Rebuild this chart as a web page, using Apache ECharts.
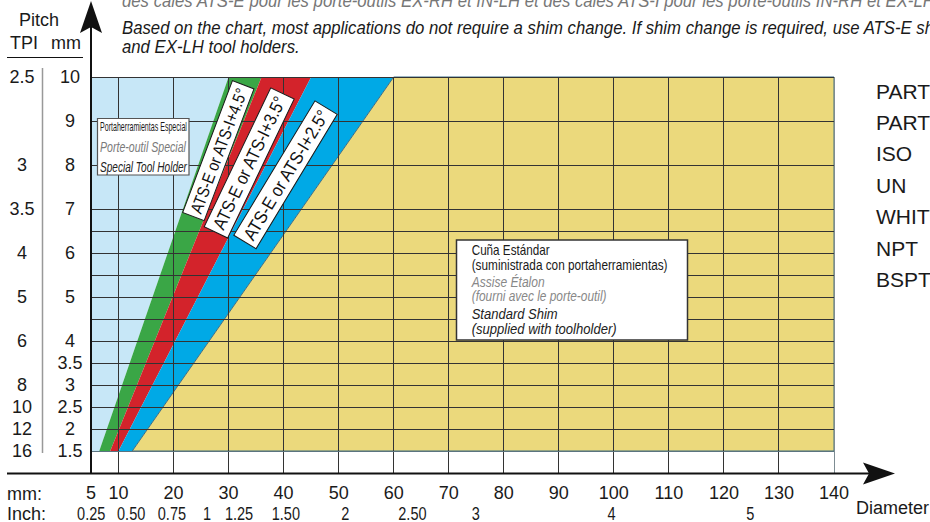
<!DOCTYPE html>
<html><head><meta charset="utf-8">
<script src="https://cdn.jsdelivr.net/npm/echarts@6/dist/echarts.min.js"></script>
<style>html,body{margin:0;padding:0;background:#fff}#c{width:930px;height:522px}</style>
</head><body><div id="c"></div>
<script>
// ---- data ----
// x axis: diameter (mm) and inch reference labels
const mmTicks = [5, 10, 20, 30, 40, 50, 60, 70, 80, 90, 100, 110, 120, 130, 140];
const inchLabels = ['0.25', '0.50', '0.75', '1', '1.25', '1.50', '2', '2.50', '3', '4', '5'];
const inchLabelAt = [5.05, 12.3, 19.7, 26.1, 31.9, 40.4, 51.2, 63.4, 74.9, 99.6, 124.8];
// y axis: pitch rows (row index on the pitch scale)
const pitchMm = ['1.5', '2', '2.5', '3', '3.5', '4', '5', '6', '7', '8', '9', '10'];
const pitchMmRow = [0, 1, 2, 3, 4, 5, 7, 9, 11, 13, 15, 17];
const pitchTpi = ['16', '12', '10', '8', '6', '5', '4', '3.5', '3', '2.5'];
const pitchTpiRow = [0, 1, 2, 3, 5, 7, 9, 11, 13, 17];
const gridRows = [0, 1, 2, 3, 4, 5, 6, 7, 8, 9, 10, 11, 13, 15, 17];
// zone boundaries: diameter (mm) at the 1.5 mm row (bottom) and at the 10 mm row (top)
const boundaryBottom = [6.5, 8.5, 10, 12.5];
const boundaryTop = [30, 36, 45, 60];
const zoneNames = ['Special Tool Holder', 'ATS-E or ATS-I+4.5°', 'ATS-E or ATS-I+3.5°', 'ATS-E or ATS-I+2.5°', 'Standard Shim'];
const threadTypes = ['PARTIAL 60°', 'PARTIAL 55°', 'ISO', 'UN', 'WHITWORTH', 'NPT', 'BSPT'];

// ---- chart ----
const X_MIN = 5, X_MAX = 140, ROW_MIN = -1, ROW_TOP = 17;
const FONT = '"Liberation Sans", Arial, Helvetica, sans-serif';
const zoneColors = ['#c7e7f7', '#3aa646', '#d3232b', '#00a9e6', '#ebd97c'];
const edges = [[X_MIN, X_MIN]].concat(boundaryBottom.map((b, i) => [b, boundaryTop[i]])).concat([[X_MAX, X_MAX]]);

const mctx = document.createElement('canvas').getContext('2d');
function measure(str, size, italic) {
  mctx.font = (italic ? 'italic ' : '') + size + 'px ' + FONT;
  return mctx.measureText(str).width;
}
function txt(str, x, y, size, o) {
  o = o || {};
  const sx = o.width ? o.width / measure(o.fitStr || str, size, o.italic) : (o.sx || 1);
  return { type: 'text', x: x, y: y, scaleX: sx, z: 200, silent: true,
    style: { text: str, fontSize: size, fontFamily: FONT, fontStyle: o.italic ? 'italic' : 'normal',
      fill: o.color || '#1a1a1a', align: o.align || 'left', verticalAlign: 'middle' } };
}
function bandTag(str, cx, cy, deg, len, wid, size) {
  const sx = Math.min(1.05, (len - 8) / measure(str, size, false));
  return { type: 'group', x: cx, y: cy, rotation: deg * Math.PI / 180, z: 150, children: [
    { type: 'rect', z: 150, shape: { x: -len / 2, y: -wid / 2, width: len, height: wid },
      style: { fill: '#fff', stroke: '#1a1a1a', lineWidth: 1 } },
    { type: 'text', z: 151, x: 0, y: 0.5, scaleX: sx,
      style: { text: str, fontSize: size, fontFamily: FONT, fill: '#111', align: 'center', verticalAlign: 'middle' } }
  ] };
}
function box(x, y, w, h, stroke, lw) {
  return { type: 'rect', z: 180, shape: { x: x, y: y, width: w, height: h }, style: { fill: '#fff', stroke: stroke, lineWidth: lw } };
}

const chart = echarts.init(document.getElementById('c'), null, { renderer: 'svg', width: 930, height: 522 });

const elements = [];
// axes lines with arrows
elements.push({ type: 'line', z: 120, shape: { x1: 7, y1: 473.5, x2: 872, y2: 473.5 }, style: { stroke: '#111', lineWidth: 2 } });
elements.push({ type: 'polygon', z: 120, shape: { points: [[895, 473.5], [863, 462.5], [869, 473.5], [863, 484.5]] }, style: { fill: '#111' } });
elements.push({ type: 'line', z: 120, shape: { x1: 91, y1: 474, x2: 91, y2: 22 }, style: { stroke: '#111', lineWidth: 2 } });
elements.push({ type: 'polygon', z: 120, shape: { points: [[91, 1], [80, 33], [91, 27], [102, 33]] }, style: { fill: '#111' } });
// pitch header
elements.push(txt('Pitch', 39, 20.4, 18, { align: 'center' }));
elements.push(txt('TPI', 24, 42.7, 18, { align: 'center' }));
elements.push(txt('mm', 66, 42.7, 18, { align: 'center' }));
elements.push({ type: 'line', z: 120, shape: { x1: 7, y1: 57.5, x2: 83, y2: 57.5 }, style: { stroke: '#111', lineWidth: 1 } });
elements.push({ type: 'line', z: 120, shape: { x1: 42.5, y1: 68, x2: 42.5, y2: 453 }, style: { stroke: '#999', lineWidth: 1.5 } });
// x axis captions
elements.push(txt('mm:', 7, 494.4, 18));
elements.push(txt('Inch:', 7, 513.5, 18));
elements.push(txt('Diameter', 856, 507.7, 18));
// notes at top
const noteScale = 813 / measure('Based on the chart, most applications do not require a shim change. If shim change is required, use ATS-E sh', 18, true);
elements.push(txt('des cales ATS-E pour les porte-outils EX-RH et IN-LH et des cales ATS-I pour les porte-outils IN-RH et EX-LH.', 122, 1, 18, { italic: true, color: '#777', sx: noteScale }));
elements.push(txt('Based on the chart, most applications do not require a shim change. If shim change is required, use ATS-E shims for EX-RH and IN-LH tool holders and ATS-I shims for IN-RH', 122, 27.7, 18, { italic: true, color: '#1a1a1a', sx: noteScale }));
elements.push(txt('and EX-LH tool holders.', 122, 46.7, 18, { italic: true, color: '#1a1a1a', sx: noteScale }));
// thread types on the right
threadTypes.forEach((t, i) => elements.push(txt(t, 876, 91 + i * 31.4, 21, { color: '#1a1a1a' })));
// zone tags
elements.push(bandTag(zoneNames[1], 218.3, 150.7, 69.3, 141, 23, 17));
elements.push(bandTag(zoneNames[2], 249.2, 162.9, 64.4, 154, 26, 18));
elements.push(bandTag(zoneNames[3], 285.5, 174.8, 58.9, 157, 26, 18));
// special tool holder box
elements.push(box(97.5, 118.5, 91.5, 56.5, '#555', 1.2));
elements.push(txt('Portaherramientas Especial', 100, 126.3, 12, { width: 87 }));
elements.push(txt('Porte-outil Special', 100, 147.5, 14, { italic: true, color: '#7a7a7a', width: 86 }));
elements.push(txt('Special Tool Holder', 100, 167.5, 14, { italic: true, color: '#222', width: 87 }));
// standard shim box
elements.push(box(456.5, 240, 231, 100, '#333', 1.5));
elements.push(txt('Cuña Estándar', 471.7, 250.5, 14, { width: 78 }));
elements.push(txt('(suministrada con portaherramientas)', 471.7, 265, 14, { width: 196 }));
elements.push(txt('Assise Étalon', 471.7, 282, 14, { italic: true, color: '#888', width: 73 }));
elements.push(txt('(fourni avec le porte-outil)', 471.7, 296.5, 14, { italic: true, color: '#888', width: 135 }));
elements.push(txt('Standard Shim', 471.7, 314.5, 14, { italic: true, color: '#222', width: 86 }));
elements.push(txt('(supplied with toolholder)', 471.7, 329.8, 14, { italic: true, color: '#222', width: 145 }));

const crisp = v => Math.round(v - 0.5) + 0.5;

const option = {
  animation: false,
  backgroundColor: '#fff',
  grid: { left: 91, top: 77, width: 743, height: 396, containLabel: false, outerBoundsMode: 'none' },
  xAxis: [{
    type: 'value', min: X_MIN, max: X_MAX,
    axisLine: { show: false }, axisTick: { show: false }, splitLine: { show: false },
    axisLabel: { customValues: mmTicks, margin: 11, fontSize: 18, fontFamily: FONT, color: '#1a1a1a' }
  }],
  yAxis: [{
    type: 'value', min: ROW_MIN, max: ROW_TOP,
    axisLine: { show: false }, axisTick: { show: false }, splitLine: { show: false },
    axisLabel: { customValues: pitchMmRow, formatter: v => pitchMm[pitchMmRow.indexOf(v)], align: 'center',
      margin: 21, fontSize: 18, fontFamily: FONT, color: '#1a1a1a' }
  }, {
    type: 'value', min: ROW_MIN, max: ROW_TOP, position: 'left', offset: 0,
    axisLine: { show: false }, axisTick: { show: false }, splitLine: { show: false },
    axisLabel: { customValues: pitchTpiRow, formatter: v => pitchTpi[pitchTpiRow.indexOf(v)], align: 'center',
      margin: 69, fontSize: 18, fontFamily: FONT, color: '#1a1a1a' }
  }],
  series: [{
    name: 'zones', type: 'custom', z: 1, clip: false, silent: true,
    data: zoneNames.map((n, i) => ({ name: n, value: [X_MIN, 0, i] })),
    renderItem: (p, api) => {
      const i = api.value(2);
      const L = edges[i], R = edges[i + 1];
      const pts = [api.coord([L[0], 0]), api.coord([R[0], 0]), api.coord([R[1], ROW_TOP]), api.coord([L[1], ROW_TOP])];
      return { type: 'polygon', shape: { points: pts },
        style: { fill: zoneColors[i], stroke: i === 4 ? '#3c6e86' : null, lineWidth: 1 } };
    }
  }, {
    name: 'vgrid', type: 'custom', z: 3, clip: false, silent: true,
    data: mmTicks.slice(1).map(x => [x, ROW_TOP]),
    renderItem: (p, api) => {
      const x = api.value(0);
      const a = api.coord([x, ROW_MIN]), b = api.coord([x, ROW_TOP]);
      const px = crisp(a[0]);
      return { type: 'line', shape: { x1: px, y1: a[1], x2: px, y2: b[1] },
        style: { stroke: x === X_MAX ? '#7d8c92' : '#333', lineWidth: 1 } };
    }
  }, {
    name: 'hgrid', type: 'custom', z: 3, clip: false, silent: true,
    data: gridRows.map(r => [X_MIN, r]),
    renderItem: (p, api) => {
      const r = api.value(1);
      const a = api.coord([X_MIN, r]), b = api.coord([X_MAX, r]);
      const py = crisp(a[1]);
      return { type: 'line', shape: { x1: a[0], y1: py, x2: b[0], y2: py },
        style: { stroke: r === 0 ? '#5a7480' : '#333', lineWidth: 1 } };
    }
  }, {
    name: 'inch', type: 'custom', z: 3, clip: false, silent: true,
    data: inchLabelAt.map((v, i) => [v, ROW_MIN, i]),
    renderItem: (p, api) => {
      const i = api.value(2);
      const c = api.coord([api.value(0), ROW_MIN]);
      const s = 28.3 / measure('0.25', 18, false);
      return { type: 'text', x: c[0], y: c[1] + 40, scaleX: s,
        style: { text: inchLabels[i], fontSize: 18, fontFamily: FONT, fill: '#1a1a1a', align: 'center', verticalAlign: 'middle' } };
    }
  }],
  graphic: { elements: elements }
};
chart.setOption(option);
</script>
</body></html>
